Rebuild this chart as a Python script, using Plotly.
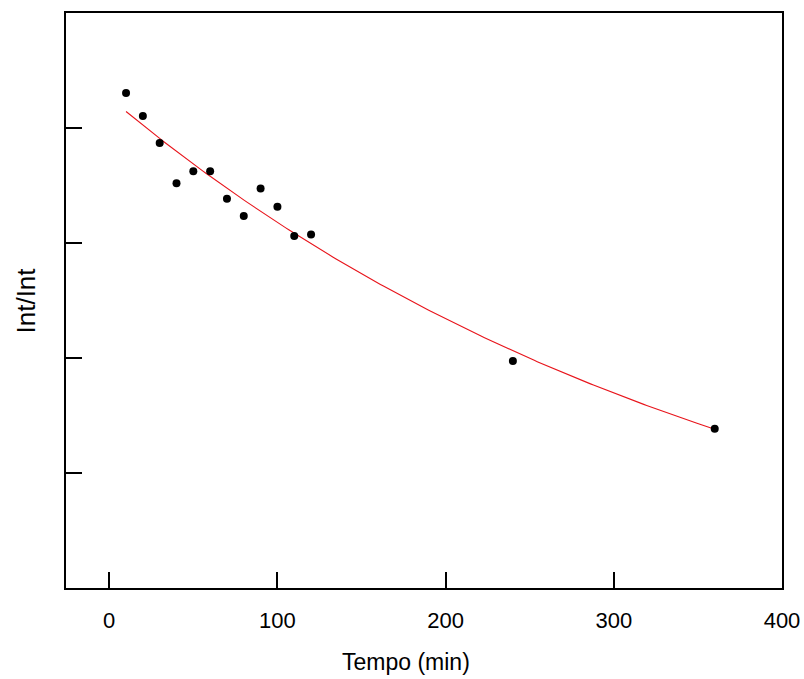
import numpy as np
import plotly.graph_objects as go

# Measured normalized intensity versus time
tempo_min = [10, 20, 30, 40, 50, 60, 70, 80, 90, 100, 110, 120, 240, 360]
int_rel = [0.861, 0.821, 0.774, 0.704, 0.725, 0.725, 0.677, 0.647,
           0.695, 0.663, 0.612, 0.615, 0.395, 0.277]

# Exponential decay fit: y = fit_c + fit_a * exp(-fit_k * t)
fit_a = 0.949
fit_k = 0.0026
fit_c = -0.096
fit_t_start = 10
fit_t_end = 360

x_ticks = [0, 100, 200, 300, 400]
y_ticks = [0.2, 0.4, 0.6, 0.8]

font_family = "Liberation Sans, Arial, sans-serif"

t_fit = np.linspace(fit_t_start, fit_t_end, 200)
y_fit = fit_c + fit_a * np.exp(-fit_k * t_fit)

fig = go.Figure()
fig.add_trace(go.Scatter(
    x=t_fit, y=y_fit, mode="lines",
    line=dict(color="#e8141b", width=1.1),
    hoverinfo="skip", showlegend=False,
))
fig.add_trace(go.Scatter(
    x=tempo_min, y=int_rel, mode="markers",
    marker=dict(color="black", size=8),
    showlegend=False,
))

axis_common = dict(
    showline=True, linecolor="black", linewidth=2, mirror=True,
    showgrid=False, zeroline=False, automargin=False,
    ticks="inside", ticklen=16, tickwidth=1.5, tickcolor="black",
)

fig.update_xaxes(
    range=[-25.7, 400], tickvals=x_ticks,
    ticktext=[str(v) for v in x_ticks],
    tickfont=dict(family=font_family, size=22, color="black"),
    ticklabelstandoff=12,
    **axis_common,
)
fig.update_yaxes(
    range=[0, 1], tickvals=y_ticks, showticklabels=False,
    **axis_common,
)

fig.add_annotation(
    text="Tempo (min)", xref="paper", yref="paper",
    x=0.475, y=0, yshift=-74, xanchor="center", yanchor="middle",
    showarrow=False,
    font=dict(family=font_family, size=23, color="black"),
)
fig.add_annotation(
    text="Int/Int", xref="paper", yref="paper",
    x=0, xshift=-41, y=0.5, xanchor="center", yanchor="middle",
    textangle=-90, showarrow=False,
    font=dict(family=font_family, size=26, color="black"),
)

fig.update_layout(
    width=804, height=679,
    margin=dict(l=66, r=22, t=13, b=91, autoexpand=False),
    paper_bgcolor="white", plot_bgcolor="white",
)

fig.write_html("out.html")
